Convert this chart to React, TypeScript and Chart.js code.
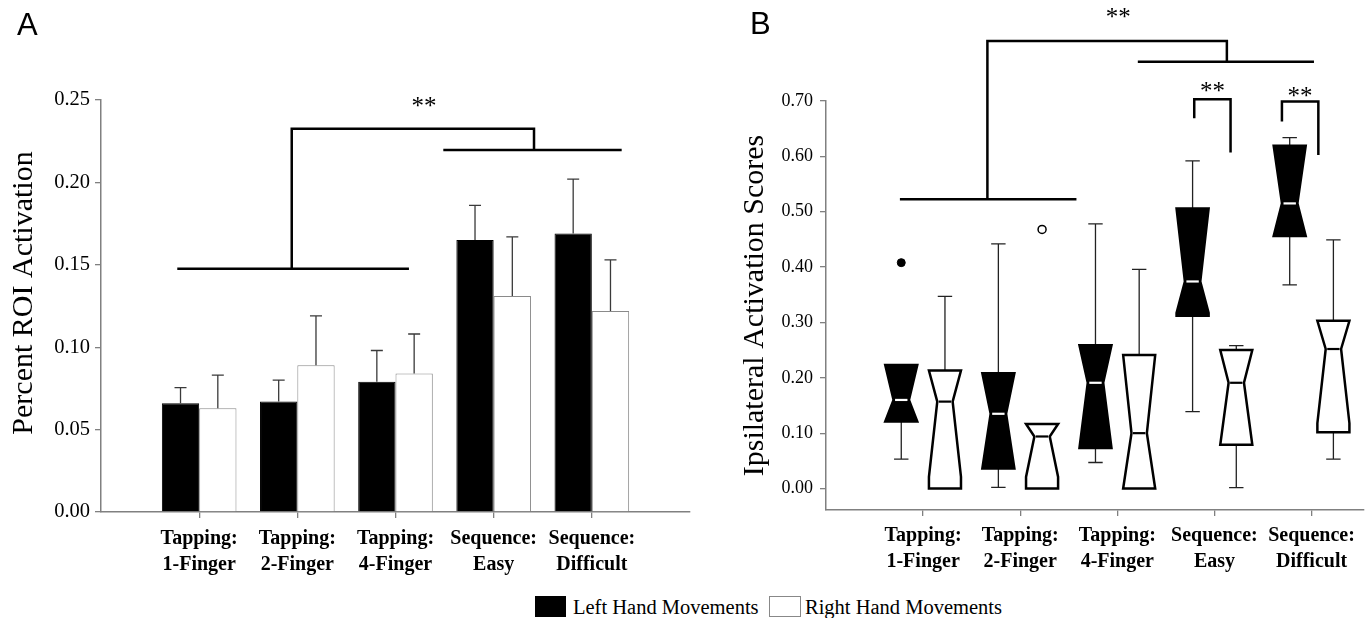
import React, { useEffect, useRef } from 'react';
import { Chart, registerables } from 'chart.js';

Chart.register(...registerables);

const SERIF = "'Liberation Serif', 'Times New Roman', serif";
const SANS = "'Liberation Sans', Arial, sans-serif";

// ---------- shared ----------
const categories: string[][] = [
  ['Tapping:', '1-Finger'],
  ['Tapping:', '2-Finger'],
  ['Tapping:', '4-Finger'],
  ['Sequence:', 'Easy'],
  ['Sequence:', 'Difficult'],
];
const seriesNames = ['Left Hand Movements', 'Right Hand Movements'];

// ---------- panel A (means + SE) ----------
const leftMeans = [0.066, 0.067, 0.079, 0.165, 0.169];
const leftSE = [0.0095, 0.013, 0.019, 0.021, 0.033];
const rightMeans = [0.063, 0.089, 0.084, 0.131, 0.122];
const rightSE = [0.02, 0.03, 0.024, 0.036, 0.031];
const yTicksA = [0, 0.05, 0.1, 0.15, 0.2, 0.25];

// ---------- panel B (notched box plots) ----------
const leftQ1 = [0.121, 0.036, 0.073, 0.312, 0.456];
const leftMedian = [0.16, 0.135, 0.191, 0.374, 0.515];
const leftQ3 = [0.223, 0.208, 0.259, 0.506, 0.619];
const leftWhiskerLow = [0.053, 0.002, 0.047, 0.139, 0.368];
const leftWhiskerHigh = [0.223, 0.442, 0.478, 0.592, 0.634];
const leftNotchLow = [0.121, 0.036, 0.073, 0.317, 0.456];
const leftNotchHigh = [0.223, 0.208, 0.259, 0.506, 0.619];

const rightQ1 = [0.0, 0.0, 0.0, 0.079, 0.1015];
const rightMedian = [0.157, 0.094, 0.1, 0.191, 0.252];
const rightQ3 = [0.213, 0.1165, 0.241, 0.25, 0.303];
const rightWhiskerLow = [0.0, 0.0, 0.0, 0.0015, 0.053];
const rightWhiskerHigh = [0.347, 0.1165, 0.396, 0.258, 0.449];
const rightNotchLow = [0.021, 0.021, 0.0, 0.079, 0.118];
const rightNotchHigh = [0.213, 0.1165, 0.241, 0.25, 0.303];

const outlierCategory = [1, 2];
const outlierSeries = [0, 1];
const outlierValue = [0.408, 0.468];

const yTicksB = [0, 0.1, 0.2, 0.3, 0.4, 0.5, 0.6, 0.7];

// ---------- significance annotations (data units) ----------
const bracketsA: number[][][] = [
  [[0.777, 0.1476], [3.137, 0.1476]],
  [[1.943, 0.1476], [1.943, 0.2326], [4.411, 0.2326], [4.411, 0.2197]],
  [[3.487, 0.2197], [5.304, 0.2197]],
];
const starsA: number[][] = [[3.29, 0.2476]];
const bracketsB: number[][][] = [
  [[0.761, 0.5225], [2.579, 0.5225]],
  [[1.662, 0.5225], [1.662, 0.8085], [4.128, 0.8085], [4.128, 0.771]],
  [[3.211, 0.771], [5.025, 0.771]],
  [[3.792, 0.669], [3.792, 0.703], [4.166, 0.703], [4.166, 0.607]],
  [[4.695, 0.663], [4.695, 0.699], [5.07, 0.699], [5.07, 0.6025]],
];
const starsB: number[][] = [[3.01, 0.8537], [3.98, 0.72], [4.88, 0.7127]];

// ---------- layout constants ----------
const BOX_OFFSET = 0.225;
const BOX_WIDTH = 0.33;
const NOTCH_RATIO = 0.48;
const AXIS_GRAY = '#808080';

function bracketPlugin(id: string, lines: number[][][], stars: number[][]) {
  return {
    id,
    afterDraw(chart: any) {
      const { ctx } = chart;
      const x = chart.scales.x;
      const y = chart.scales.y;
      ctx.save();
      ctx.strokeStyle = '#000';
      ctx.lineWidth = 2.5;
      ctx.lineJoin = 'miter';
      ctx.lineCap = 'butt';
      lines.forEach((pts) => {
        ctx.beginPath();
        pts.forEach(([a, b], k) => {
          const px = x.getPixelForValue(a);
          const py = y.getPixelForValue(b);
          if (k === 0) ctx.moveTo(px, py);
          else ctx.lineTo(px, py);
        });
        ctx.stroke();
      });
      ctx.fillStyle = '#000';
      ctx.font = `25px ${SERIF}`;
      ctx.textAlign = 'center';
      ctx.textBaseline = 'middle';
      stars.forEach(([a, b]) => {
        ctx.fillText('**', x.getPixelForValue(a), y.getPixelForValue(b) + 3);
      });
      ctx.restore();
    },
  };
}

const errorBarPlugin = {
  id: 'errorBars',
  afterDatasetsDraw(chart: any) {
    const { ctx } = chart;
    const y = chart.scales.y;
    const sets = [
      { means: leftMeans, se: leftSE },
      { means: rightMeans, se: rightSE },
    ];
    ctx.save();
    ctx.strokeStyle = '#3a3a3a';
    ctx.lineWidth = 1.3;
    sets.forEach((s, d) => {
      const meta = chart.getDatasetMeta(d);
      meta.data.forEach((el: any, i: number) => {
        const top = y.getPixelForValue(s.means[i] + s.se[i]);
        ctx.beginPath();
        ctx.moveTo(el.x, el.y);
        ctx.lineTo(el.x, top);
        ctx.moveTo(el.x - 6, top);
        ctx.lineTo(el.x + 6, top);
        ctx.stroke();
      });
    });
    ctx.restore();
  },
};

const yTitlePluginA = {
  id: 'yTitleA',
  afterDraw(chart: any) {
    const { ctx, chartArea } = chart;
    ctx.save();
    ctx.translate(24, (chartArea.top + chartArea.bottom) / 2 - 13);
    ctx.rotate(-Math.PI / 2);
    ctx.fillStyle = '#000';
    ctx.font = `30px ${SERIF}`;
    ctx.textAlign = 'center';
    ctx.textBaseline = 'middle';
    ctx.fillText('Percent ROI Activation', 0, 0);
    ctx.restore();
  },
};

const boxPlugin = {
  id: 'boxes',
  beforeDatasetsDraw(chart: any) {
    const { ctx } = chart;
    const x = chart.scales.x;
    const y = chart.scales.y;
    const series = [
      { q1: leftQ1, med: leftMedian, q3: leftQ3, wl: leftWhiskerLow, wh: leftWhiskerHigh, nl: leftNotchLow, nh: leftNotchHigh, fill: '#000', medColor: '#fff', off: -BOX_OFFSET },
      { q1: rightQ1, med: rightMedian, q3: rightQ3, wl: rightWhiskerLow, wh: rightWhiskerHigh, nl: rightNotchLow, nh: rightNotchHigh, fill: '#fff', medColor: '#000', off: BOX_OFFSET },
    ];
    ctx.save();
    series.forEach((s) => {
      categories.forEach((_, i) => {
        const c = i + 1 + s.off;
        const px = x.getPixelForValue(c);
        const half = x.getPixelForValue(c + BOX_WIDTH / 2) - px;
        const nhalf = half * NOTCH_RATIO;
        const capHalf = half * 0.45;
        const yq1 = y.getPixelForValue(s.q1[i]);
        const yq3 = y.getPixelForValue(s.q3[i]);
        const ymed = y.getPixelForValue(s.med[i]);
        const yNh = y.getPixelForValue(Math.min(s.nh[i], s.q3[i]));
        const yNl = y.getPixelForValue(Math.max(s.nl[i], s.q1[i]));
        // whiskers
        ctx.strokeStyle = '#222';
        ctx.lineWidth = 1.3;
        ctx.beginPath();
        if (s.wh[i] > s.q3[i] + 1e-4) {
          const yw = y.getPixelForValue(s.wh[i]);
          ctx.moveTo(px, yq3);
          ctx.lineTo(px, yw);
          ctx.moveTo(px - capHalf, yw);
          ctx.lineTo(px + capHalf, yw);
        }
        if (s.wl[i] < s.q1[i] - 1e-4) {
          const yw = y.getPixelForValue(s.wl[i]);
          ctx.moveTo(px, yq1);
          ctx.lineTo(px, yw);
          ctx.moveTo(px - capHalf, yw);
          ctx.lineTo(px + capHalf, yw);
        }
        ctx.stroke();
        // notched box
        ctx.beginPath();
        ctx.moveTo(px - half, yq3);
        ctx.lineTo(px + half, yq3);
        ctx.lineTo(px + half, yNh);
        ctx.lineTo(px + nhalf, ymed);
        ctx.lineTo(px + half, yNl);
        ctx.lineTo(px + half, yq1);
        ctx.lineTo(px - half, yq1);
        ctx.lineTo(px - half, yNl);
        ctx.lineTo(px - nhalf, ymed);
        ctx.lineTo(px - half, yNh);
        ctx.closePath();
        ctx.fillStyle = s.fill;
        ctx.fill();
        ctx.strokeStyle = '#000';
        ctx.lineWidth = 2.5;
        ctx.lineJoin = 'miter';
        ctx.stroke();
        // median
        ctx.beginPath();
        ctx.strokeStyle = s.medColor;
        ctx.lineWidth = 2.2;
        ctx.moveTo(px - nhalf + 1.5, ymed);
        ctx.lineTo(px + nhalf - 1.5, ymed);
        ctx.stroke();
      });
    });
    ctx.restore();
  },
};

const xTickLabel = (v: any) => categories[Math.round(Number(v)) - 1] || '';
const categoryTicks = (scale: any) => {
  scale.ticks = categories.map((_, i) => ({ value: i + 1 }));
};

function xScale(max: number, height: number, padding: number) {
  return {
    type: 'linear',
    min: 0,
    max,
    offset: false,
    afterBuildTicks: categoryTicks,
    afterFit: (s: any) => {
      s.height = height;
    },
    ticks: {
      callback: xTickLabel,
      autoSkip: false,
      maxRotation: 0,
      minRotation: 0,
      padding,
      color: '#000',
      font: { family: SERIF, size: 20, weight: 'bold', lineHeight: 1.3 },
    },
    grid: { display: true, drawOnChartArea: false, drawTicks: true, tickLength: 6, color: AXIS_GRAY, offset: false, lineWidth: 1.3 },
    border: { display: true, color: AXIS_GRAY, width: 1.5 },
  };
}

export default function App() {
  const refA = useRef<HTMLCanvasElement>(null);
  const refB = useRef<HTMLCanvasElement>(null);

  useEffect(() => {
    const chartA = new Chart(refA.current as HTMLCanvasElement, {
      type: 'bar',
      data: {
        datasets: [
          {
            label: seriesNames[0],
            data: leftMeans.map((v, i) => ({ x: i + 1, y: v })),
            backgroundColor: '#000',
            borderColor: '#000',
            borderWidth: 1,
            categoryPercentage: 0.76,
            barPercentage: 1,
          },
          {
            label: seriesNames[1],
            data: rightMeans.map((v, i) => ({ x: i + 1, y: v })),
            backgroundColor: '#fff',
            borderColor: '#8a8a8a',
            borderWidth: 1,
            categoryPercentage: 0.76,
            barPercentage: 1,
          },
        ],
      } as any,
      options: {
        animation: false,
        responsive: false,
        maintainAspectRatio: false,
        layout: { padding: { left: 2, right: 10, top: 100, bottom: 0 } },
        plugins: { legend: { display: false }, tooltip: { enabled: false }, title: { display: false } },
        scales: {
          x: xScale(6, 78, 8) as any,
          y: {
            type: 'linear',
            min: 0,
            max: 0.25,
            afterBuildTicks: (s: any) => {
              s.ticks = yTicksA.map((v) => ({ value: v }));
            },
            afterFit: (s: any) => {
              s.width = 99;
            },
            ticks: {
              callback: (v: any) => Number(v).toFixed(2),
              padding: 5,
              color: '#000',
              font: { family: SERIF, size: 20.5 },
            },
            grid: { display: true, drawOnChartArea: false, drawTicks: true, tickLength: 6, color: AXIS_GRAY, lineWidth: 1.3 },
            border: { display: true, color: AXIS_GRAY, width: 1.5 },
          },
        },
      } as any,
      plugins: [errorBarPlugin, bracketPlugin('bracketsA', bracketsA, starsA), yTitlePluginA],
    });

    const outlierPoints = (series: number) =>
      outlierValue
        .map((v, k) => ({ v, k }))
        .filter((o) => outlierSeries[o.k] === series)
        .map((o) => ({ x: outlierCategory[o.k] + (series === 0 ? -BOX_OFFSET : BOX_OFFSET), y: o.v }));

    const chartB = new Chart(refB.current as HTMLCanvasElement, {
      type: 'scatter',
      data: {
        datasets: [
          {
            label: seriesNames[0] + ' outliers',
            data: outlierPoints(0),
            pointRadius: 4,
            pointBackgroundColor: '#000',
            pointBorderColor: '#000',
            pointBorderWidth: 1,
          },
          {
            label: seriesNames[1] + ' outliers',
            data: outlierPoints(1),
            pointRadius: 4,
            pointBackgroundColor: '#fff',
            pointBorderColor: '#000',
            pointBorderWidth: 1.5,
          },
        ],
      } as any,
      options: {
        animation: false,
        responsive: false,
        maintainAspectRatio: false,
        layout: { padding: { left: 2, right: 0, top: 101, bottom: 0 } },
        plugins: { legend: { display: false }, tooltip: { enabled: false }, title: { display: false } },
        scales: {
          x: xScale(5.535, 80, 7) as any,
          y: {
            type: 'linear',
            min: -0.0388,
            max: 0.7,
            afterBuildTicks: (s: any) => {
              s.ticks = yTicksB.map((v) => ({ value: v }));
            },
            afterFit: (s: any) => {
              s.width = 93;
            },
            ticks: {
              callback: (v: any) => Number(v).toFixed(2),
              padding: 7,
              color: '#000',
              font: { family: SERIF, size: 18 },
            },
            title: {
              display: true,
              text: 'Ipsilateral Activation Scores',
              color: '#000',
              font: { family: SERIF, size: 30 },
              padding: { top: 4, bottom: 4 },
            },
            grid: { display: true, drawOnChartArea: false, drawTicks: true, tickLength: 6, color: AXIS_GRAY, lineWidth: 1.3 },
            border: { display: true, color: AXIS_GRAY, width: 1.5 },
          },
        },
      } as any,
      plugins: [boxPlugin, bracketPlugin('bracketsB', bracketsB, starsB)],
    });

    return () => {
      chartA.destroy();
      chartB.destroy();
    };
  }, []);

  const legendText: React.CSSProperties = {
    position: 'absolute',
    top: 597,
    font: `20.5px ${SERIF}`,
    lineHeight: '20.5px',
    color: '#000',
    whiteSpace: 'nowrap',
  };

  return (
    <div style={{ position: 'absolute', left: 0, top: 0, width: 1369, height: 618, overflow: 'hidden', background: '#fff' }}>
      <canvas ref={refA} width={700} height={590} style={{ position: 'absolute', left: 0, top: 0, width: 700, height: 590 }} />
      <canvas ref={refB} width={638} height={590} style={{ position: 'absolute', left: 731, top: 0, width: 638, height: 590 }} />
      <div style={{ position: 'absolute', left: 17, top: 9, font: `31px ${SANS}`, lineHeight: '31px', color: '#000' }}>A</div>
      <div style={{ position: 'absolute', left: 750, top: 8, font: `31px ${SANS}`, lineHeight: '31px', color: '#000' }}>B</div>
      <div style={{ position: 'absolute', left: 535, top: 596, width: 31, height: 21, background: '#000' }} />
      <div style={{ ...legendText, left: 573 }}>{seriesNames[0]}</div>
      <div style={{ position: 'absolute', left: 769, top: 596, width: 30, height: 19, background: '#fff', border: '1px solid #888' }} />
      <div style={{ ...legendText, left: 805 }}>{seriesNames[1]}</div>
    </div>
  );
}
